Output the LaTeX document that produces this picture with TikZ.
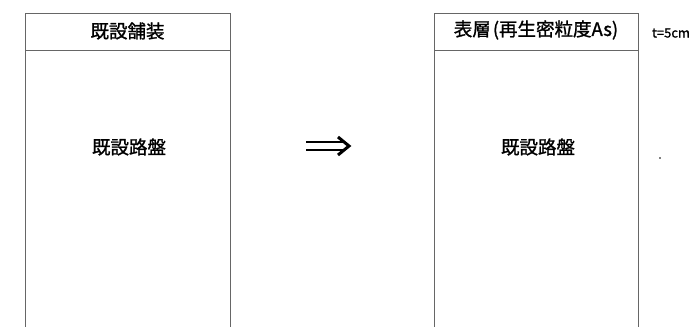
\documentclass[tikz,border=0pt]{standalone}
\usepackage{fontspec}
\newfontfamily\jpfont{Noto Sans CJK JP}[FakeBold=1.2]
\begin{document}
\begin{tikzpicture}[x=1pt,y=-1pt,
  frame/.style={draw=black!60, line width=0.8pt},
  hdr/.style={font=\jpfont\fontsize{18.5}{20}\selectfont, inner sep=0pt, anchor=center},
  body/.style={font=\jpfont\fontsize{18.5}{20}\selectfont, inner sep=0pt, anchor=center},
  note/.style={font=\jpfont\fontsize{13}{14}\selectfont, inner sep=0pt, anchor=center},
  bar/.style={line width=2.6pt, line cap=butt}]
\useasboundingbox (0,0) rectangle (700,326);
% left column
\draw[frame] (25,330) -- (25,13) -- (230,13) -- (230,330);
\draw[frame] (25,50) -- (230,50);
\node[hdr] (h1) at (127.5,31) {既設舗装};
\node[body] (b1) at (129,147) {既設路盤};
% arrow (double-shafted, drawn directly)
\coordinate (a0) at (306,146);
\coordinate (a1) at (349,146);
\draw[bar] ([yshift=-4pt]a0) -- ++(37,0);
\draw[bar] ([yshift=4pt]a0) -- ++(37,0);
\draw[line width=3pt, line join=miter] ([shift={(-11,-9)}]a1) -- (a1) -- ([shift={(-11,9)}]a1);
% right column
\draw[frame] (434,330) -- (434,13) -- (638,13) -- (638,330);
\draw[frame] (434,50) -- (638,50);
\node[hdr] (h2) at (536,30) {表層\hspace{2pt}(再生密粒度As)};
\node[body] (b2) at (538,147) {既設路盤};
\node[note] (t) at (671,33) {t=5cm};
\fill (660,158) circle (0.9);
\end{tikzpicture}
\end{document}
